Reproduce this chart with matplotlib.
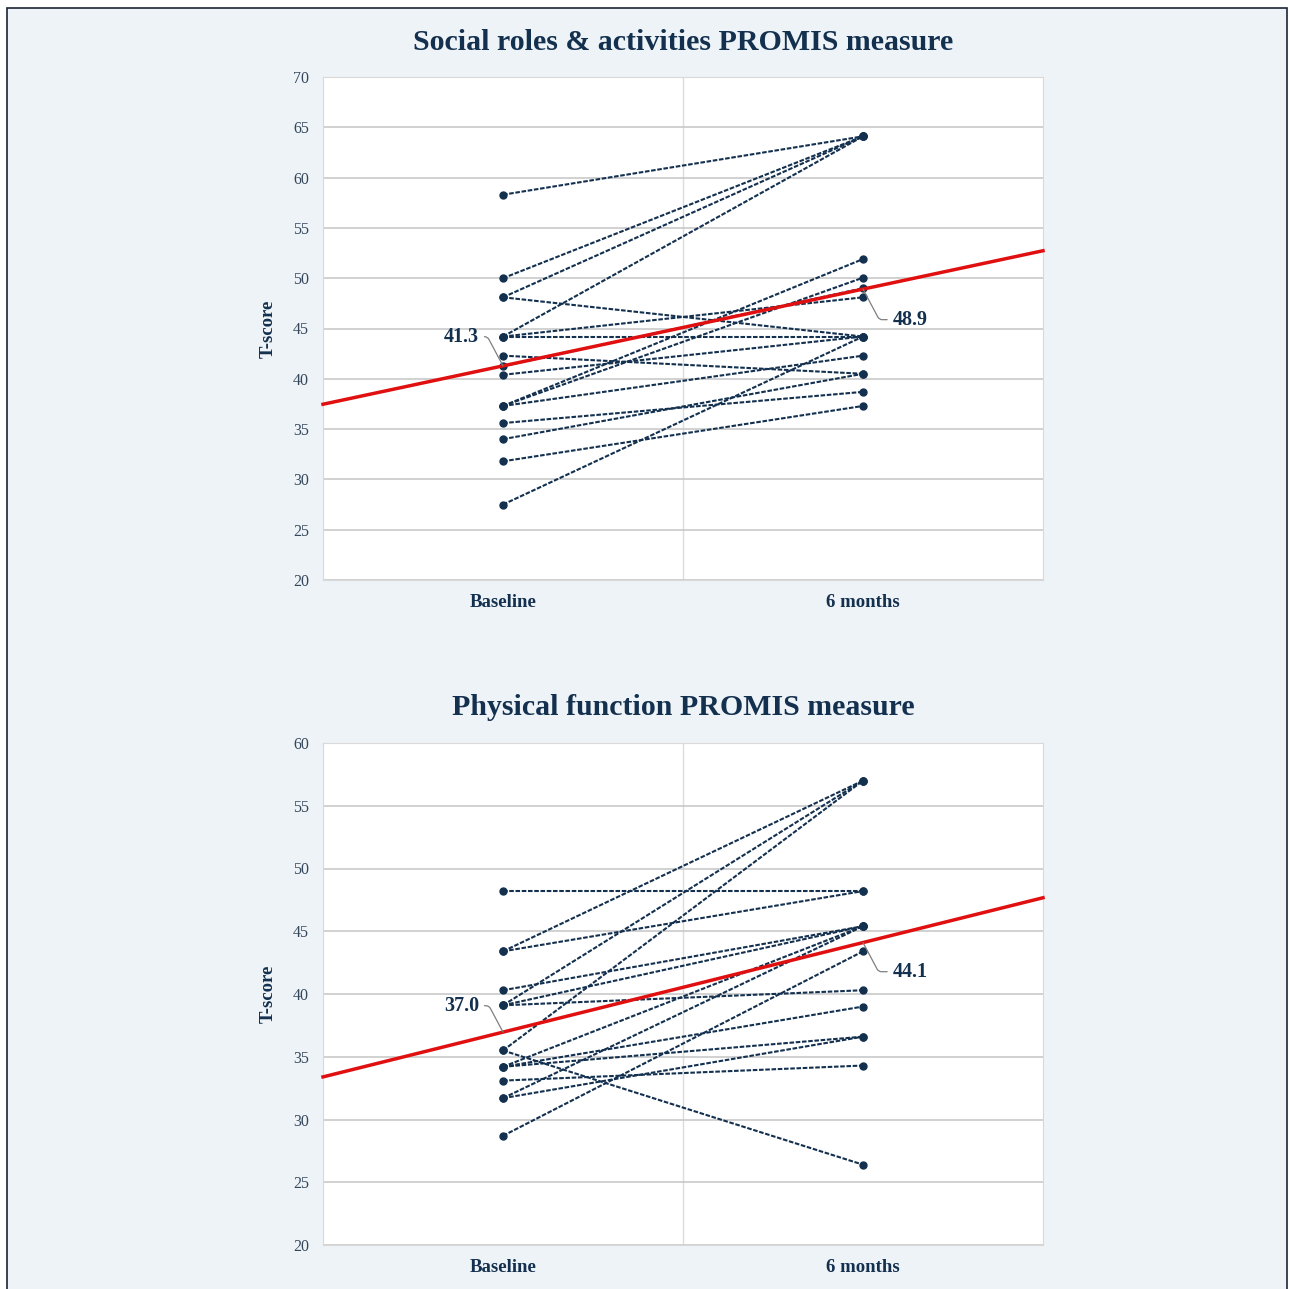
import numpy as np
import matplotlib
matplotlib.use("Agg")
import matplotlib.pyplot as plt
from matplotlib.patches import Rectangle

plt.rcParams['font.family'] = ['Liberation Serif', 'DejaVu Serif']

# data
timepoints = ["Baseline", "6 months"]

social_baseline = [58.3, 50.0, 48.1, 44.2, 48.1, 44.2, 44.2, 42.3, 40.4,
                   37.3, 37.3, 37.3, 35.6, 34.0, 31.8, 27.5, 41.25]
social_6m = [64.1, 64.1, 64.1, 64.1, 44.2, 48.1, 44.2, 40.5, 44.2,
             51.9, 50.05, 42.3, 38.7, 40.5, 37.3, 44.2, 49.0]

phys_baseline = [48.2, 43.4, 43.4, 40.3, 39.1, 39.1, 39.1, 35.5, 35.5,
                 34.2, 34.2, 33.1, 31.7, 31.7, 28.7, 34.2]
phys_6m = [48.2, 57.0, 48.2, 45.4, 57.0, 45.4, 40.3, 57.0, 26.4,
           45.4, 39.0, 34.3, 45.4, 36.6, 43.4, 36.6]

social_ylim = (20, 70)
phys_ylim = (20, 60)

NAVY = "#13304f"
TICK = "#34465a"
BG = "#eef3f7"

fig = plt.figure(figsize=(12.89, 12.89), dpi=100, facecolor="white")
fig.patches.append(Rectangle((7 / 1289, -0.01), 1280 / 1289, 1 - 8 / 1289 + 0.01,
                             transform=fig.transFigure, facecolor=BG,
                             edgecolor="#1a2533", lw=1.2, zorder=-5))


def panel(rect, title, title_y, base, six, ylim, lab_offsets):
    ax = fig.add_axes(rect)
    ax.set_facecolor("white")
    x = np.arange(len(timepoints))
    for b, s in zip(base, six):
        ax.plot(x, [b, s], color=NAVY, lw=1.5, ls=(0, (2.2, 0.8)),
                marker="o", ms=5, zorder=3)
    # mean line, extended over the whole plot width
    m0, m1 = np.mean(base), np.mean(six)
    xx = np.array([-0.5, 1.5])
    ax.plot(xx, m0 + (m1 - m0) * xx, color="#e01010", lw=2.5, zorder=4,
            clip_on=False)
    for xi, m, off in zip(x, (m0, m1), lab_offsets):
        ax.annotate(f"{m:.1f}", xy=(xi, m), xytext=off, textcoords="offset points",
                    ha="center", va="center", fontsize=14.5, fontweight="bold",
                    color=NAVY, zorder=5,
                    arrowprops=dict(arrowstyle="-", color="#7f7f7f", lw=0.9,
                                    shrinkA=2, shrinkB=0,
                                    connectionstyle="angle,angleA=0,angleB=118,rad=3"))
    ax.set_xlim(-0.5, 1.5)
    ax.set_ylim(*ylim)
    ax.set_yticks(np.arange(ylim[0], ylim[1] + 1, 5))
    ax.set_xticks(x)
    ax.set_xticklabels(timepoints, fontsize=13.5, fontweight="bold", color=NAVY)
    ax.set_xticks([0.5], minor=True)
    ax.grid(axis="y", color="#c9c9c9", lw=1.2)
    ax.grid(axis="x", which="minor", color="#dcdcdc", lw=1.0)
    ax.set_axisbelow(True)
    ax.tick_params(axis="both", which="both", length=0)
    ax.tick_params(axis="y", labelsize=11.5, labelcolor=TICK, pad=10)
    ax.tick_params(axis="x", pad=10)
    for sp in ax.spines.values():
        sp.set_color("#d9d9d9")
    ax.set_ylabel("T-score", fontsize=13.5, fontweight="bold", color=NAVY, labelpad=12)
    fig.text(0.53, title_y, title, ha="center", va="center", fontsize=21.5,
             fontweight="bold", color=NAVY)
    return ax


panel([323 / 1289, 1 - 580 / 1289, 720 / 1289, 503 / 1289],
      "Social roles & activities PROMIS measure", 1 - 42 / 1289,
      social_baseline, social_6m, social_ylim, [(-30, 21), (34, -22)])
panel([323 / 1289, 1 - 1245 / 1289, 720 / 1289, 502 / 1289],
      "Physical function PROMIS measure", 1 - 708 / 1289,
      phys_baseline, phys_6m, phys_ylim, [(-30, 19), (34, -21)])

fig.savefig("out.png", dpi=100, facecolor=fig.get_facecolor())
